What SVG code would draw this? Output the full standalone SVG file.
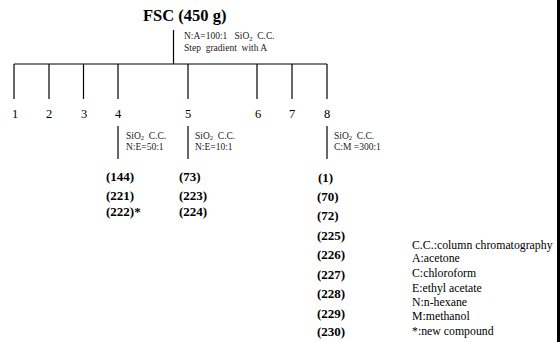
<svg xmlns="http://www.w3.org/2000/svg" width="560" height="342" viewBox="0 0 560 342">
<style>
.ln{stroke:#000;stroke-width:1.2;fill:none}
.t{font-family:"Liberation Serif","Times New Roman",serif;fill:#000}
.title{font-size:16.5px;font-weight:bold}
.num{font-size:12.5px;text-anchor:middle}
.note{font-size:9.5px;fill:#222}
.sub{font-size:6.5px}
.cmp{font-size:13px;font-weight:bold}
.leg{font-size:11.8px}
</style>
<rect x="0" y="0" width="560" height="342" fill="#fff"/>
<rect x="557" y="0" width="3" height="342" fill="#000"/>
<g id="root"><text class="t title" x="143" y="21">FSC (450 g)</text>
<text class="t note" x="184" y="39" xml:space="preserve">N:A=100:1   SiO<tspan class="sub" dy="1.5">2</tspan><tspan dy="-1.5">  C.C.</tspan></text>
<text class="t note" x="184" y="50.5" xml:space="preserve">Step  gradient  with A</text></g>
<g id="connectors">
<line class="ln" x1="173.5" y1="30" x2="173.5" y2="64"/>
<line class="ln" x1="14" y1="64" x2="327" y2="64"/>
<line class="ln" x1="14" y1="64" x2="14" y2="99"/>
<line class="ln" x1="49" y1="64" x2="49" y2="99"/>
<line class="ln" x1="83.5" y1="64" x2="83.5" y2="99"/>
<line class="ln" x1="118" y1="64" x2="118" y2="99"/>
<line class="ln" x1="188" y1="64" x2="188" y2="99"/>
<line class="ln" x1="257" y1="64" x2="257" y2="99"/>
<line class="ln" x1="292" y1="64" x2="292" y2="99"/>
<line class="ln" x1="327" y1="64" x2="327" y2="99"/>
<line class="ln" x1="118" y1="126" x2="118" y2="159"/>
<line class="ln" x1="188" y1="126" x2="188" y2="159"/>
<line class="ln" x1="327" y1="126" x2="327" y2="159"/>
</g>
<g id="f1"><text class="t num" x="15" y="118">1</text></g>
<g id="f2"><text class="t num" x="49" y="118">2</text></g>
<g id="f3"><text class="t num" x="84" y="118">3</text></g>
<g id="f4"><text class="t num" x="118" y="118">4</text>
<text class="t note" x="126" y="138.5" xml:space="preserve">SiO<tspan class="sub" dy="1.5">2</tspan><tspan dy="-1.5">  C.C.</tspan></text>
<text class="t note" x="126" y="150">N:E=50:1</text>
<text class="t cmp" x="106" y="181">(144)</text>
<text class="t cmp" x="106" y="200">(221)</text>
<text class="t cmp" x="106" y="216">(222)*</text></g>
<g id="f5"><text class="t num" x="188" y="118">5</text>
<text class="t note" x="195" y="138.5" xml:space="preserve">SiO<tspan class="sub" dy="1.5">2</tspan><tspan dy="-1.5">  C.C.</tspan></text>
<text class="t note" x="195" y="150">N:E=10:1</text>
<text class="t cmp" x="179" y="181">(73)</text>
<text class="t cmp" x="179" y="200">(223)</text>
<text class="t cmp" x="179" y="216">(224)</text></g>
<g id="f6"><text class="t num" x="258" y="118">6</text></g>
<g id="f7"><text class="t num" x="292" y="118">7</text></g>
<g id="f8"><text class="t num" x="327" y="118">8</text>
<text class="t note" x="334" y="138.5" xml:space="preserve">SiO<tspan class="sub" dy="1.5">2</tspan><tspan dy="-1.5">  C.C.</tspan></text>
<text class="t note" x="334" y="150">C:M =300:1</text>
<text class="t cmp" x="318" y="182">(1)</text>
<text class="t cmp" x="317" y="201">(70)</text>
<text class="t cmp" x="317" y="220">(72)</text>
<text class="t cmp" x="317" y="240">(225)</text>
<text class="t cmp" x="317" y="259">(226)</text>
<text class="t cmp" x="317" y="279">(227)</text>
<text class="t cmp" x="317" y="298">(228)</text>
<text class="t cmp" x="317" y="318">(229)</text>
<text class="t cmp" x="317" y="336">(230)</text></g>
<g id="legend">
<text class="t leg" x="412" y="249">C.C.:column chromatography</text>
<text class="t leg" x="412" y="262">A:acetone</text>
<text class="t leg" x="412" y="277">C:chloroform</text>
<text class="t leg" x="412" y="292">E:ethyl acetate</text>
<text class="t leg" x="412" y="306">N:n-hexane</text>
<text class="t leg" x="412" y="320">M:methanol</text>
<text class="t leg" x="412" y="335">*:new compound</text>
</g>
</svg>
